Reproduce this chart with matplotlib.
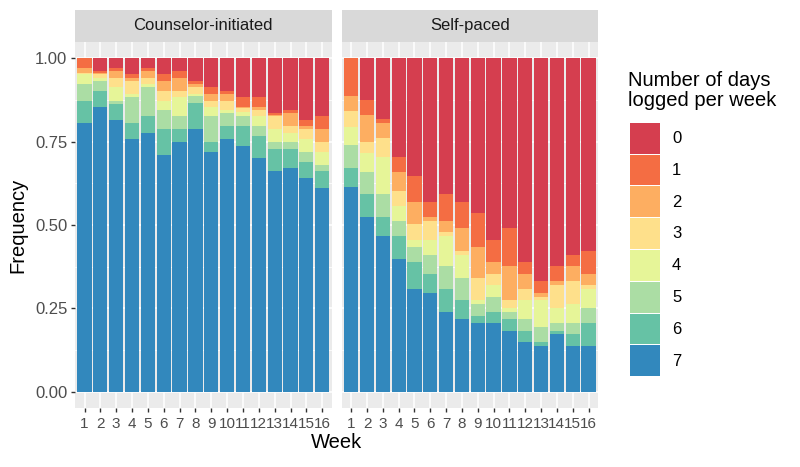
import matplotlib
matplotlib.use("Agg")
import matplotlib.pyplot as plt
from matplotlib.patches import Rectangle
import numpy as np

plt.rcParams['font.family'] = ['Liberation Sans', 'DejaVu Sans']

weeks = list(range(1, 17))
days = [0, 1, 2, 3, 4, 5, 6, 7]
panels = ["Counselor-initiated", "Self-paced"]
colors = ["#d53e4f", "#f46d43", "#fdae61", "#fee08b",
          "#e6f598", "#abdda4", "#66c2a5", "#3288bd"]

# frequency of each "days logged" value (rows: 0..7) by week
counselor_freq = [
    [0.000, 0.038, 0.030, 0.048, 0.030, 0.048, 0.038, 0.067, 0.087, 0.097, 0.117, 0.117, 0.164, 0.155, 0.184, 0.174],
    [0.030, 0.005, 0.008, 0.010, 0.008, 0.019, 0.020, 0.010, 0.020, 0.010, 0.028, 0.028, 0.006, 0.009, 0.019, 0.039],
    [0.015, 0.005, 0.020, 0.009, 0.020, 0.030, 0.039, 0.010, 0.020, 0.020, 0.005, 0.010, 0.004, 0.039, 0.010, 0.039],
    [0.003, 0.010, 0.029, 0.040, 0.019, 0.030, 0.020, 0.020, 0.018, 0.028, 0.012, 0.019, 0.039, 0.020, 0.029, 0.029],
    [0.029, 0.009, 0.040, 0.010, 0.010, 0.028, 0.057, 0.005, 0.029, 0.009, 0.012, 0.029, 0.039, 0.029, 0.039, 0.039],
    [0.050, 0.030, 0.010, 0.076, 0.087, 0.058, 0.039, 0.023, 0.078, 0.039, 0.029, 0.030, 0.019, 0.019, 0.029, 0.019],
    [0.066, 0.048, 0.048, 0.049, 0.049, 0.078, 0.039, 0.078, 0.029, 0.039, 0.059, 0.067, 0.068, 0.058, 0.048, 0.049],
    [0.807, 0.855, 0.815, 0.758, 0.777, 0.709, 0.748, 0.787, 0.719, 0.758, 0.738, 0.700, 0.661, 0.671, 0.642, 0.612],
]
self_freq = [
    [0.000, 0.125, 0.182, 0.295, 0.352, 0.430, 0.408, 0.430, 0.465, 0.545, 0.510, 0.612, 0.669, 0.623, 0.590, 0.578],
    [0.113, 0.045, 0.011, 0.045, 0.078, 0.045, 0.079, 0.080, 0.102, 0.067, 0.113, 0.034, 0.034, 0.046, 0.033, 0.068],
    [0.045, 0.080, 0.045, 0.057, 0.068, 0.012, 0.035, 0.068, 0.091, 0.034, 0.102, 0.046, 0.012, 0.011, 0.046, 0.034],
    [0.047, 0.033, 0.057, 0.045, 0.047, 0.058, 0.011, 0.012, 0.067, 0.034, 0.023, 0.033, 0.010, 0.068, 0.068, 0.012],
    [0.056, 0.057, 0.113, 0.046, 0.022, 0.045, 0.090, 0.068, 0.012, 0.035, 0.012, 0.057, 0.080, 0.046, 0.057, 0.056],
    [0.067, 0.068, 0.069, 0.045, 0.045, 0.056, 0.069, 0.067, 0.035, 0.045, 0.022, 0.035, 0.046, 0.023, 0.034, 0.046],
    [0.057, 0.068, 0.056, 0.068, 0.080, 0.057, 0.068, 0.057, 0.022, 0.034, 0.035, 0.034, 0.011, 0.011, 0.034, 0.068],
    [0.615, 0.524, 0.467, 0.399, 0.308, 0.297, 0.240, 0.218, 0.206, 0.206, 0.183, 0.149, 0.138, 0.172, 0.138, 0.138],
]

W, H = 800, 467
fig = plt.figure(figsize=(W / 100, H / 100), dpi=100)


def px_box(x0, y0, x1, y1):
    # pixel box (top-left origin) -> figure fraction rect
    return [x0 / W, 1 - y1 / H, (x1 - x0) / W, (y1 - y0) / H]


panel_x = [(75, 331.7), (341.7, 598)]
panel_top, panel_bot, strip_top = 41.7, 408.4, 10

for p, (name, freq) in enumerate(zip(panels, [counselor_freq, self_freq])):
    x0, x1 = panel_x[p]
    ax = fig.add_axes(px_box(x0, panel_top, x1, panel_bot))
    ax.set_facecolor("#ebebeb")
    for s in ax.spines.values():
        s.set_visible(False)
    ax.set_xlim(0.4, 16.6)
    ax.set_ylim(-0.05, 1.05)
    ax.set_axisbelow(True)
    ax.set_yticks([0, 0.25, 0.5, 0.75, 1.0])
    ax.set_yticks([0.125, 0.375, 0.625, 0.875], minor=True)
    ax.set_xticks(weeks)
    ax.grid(True, which="major", color="white", linewidth=1.1)
    ax.grid(True, which="minor", axis="y", color="white", linewidth=0.55)

    bottom = np.zeros(len(weeks))
    for d in reversed(days):
        vals = np.array(freq[d])
        ax.bar(weeks, vals, width=0.9, bottom=bottom, color=colors[d], linewidth=0)
        bottom += vals

    ax.tick_params(axis="both", length=3, width=1, color="#333333",
                   labelsize=12, labelcolor="#4d4d4d", pad=2.5)
    ax.tick_params(axis="x", pad=3.5, labelsize=11)
    ax.set_xticklabels([str(w) for w in weeks])
    if p == 0:
        ax.set_yticklabels(["0.00", "0.25", "0.50", "0.75", "1.00"])
    else:
        ax.tick_params(axis="y", left=False, labelleft=False)
    ax.tick_params(axis="y", which="minor", left=False)

    sax = fig.add_axes(px_box(x0, strip_top, x1, panel_top))
    sax.set_facecolor("#d9d9d9")
    sax.set_xticks([])
    sax.set_yticks([])
    for s in sax.spines.values():
        s.set_visible(False)
    sax.text(0.5, 0.5, name, ha="center", va="center", fontsize=12, color="#1a1a1a",
             transform=sax.transAxes)

fig.text(18 / W, 1 - 225 / H, "Frequency", rotation=90, ha="center", va="center",
         fontsize=14.5, color="black")
fig.text(337 / W, 1 - 442 / H, "Week", ha="center", va="center", fontsize=14.5, color="black")

# legend
fig.text(628 / W, 1 - 71 / H, "Number of days\nlogged per week", ha="left", va="top",
         fontsize=14.5, color="black", linespacing=1.1)
key_top, key_h = 122.7, 31.8
for i, d in enumerate(days):
    y0 = key_top + i * key_h
    fig.patches.append(Rectangle((630 / W, 1 - (y0 + key_h - 1) / H), 30 / W, (key_h - 1) / H,
                                 transform=fig.transFigure, facecolor=colors[d],
                                 edgecolor="none"))
    fig.text(672 / W, 1 - (y0 + key_h / 2) / H, str(d), ha="left", va="center",
             fontsize=12, color="black")

fig.savefig("out.png", dpi=100)
